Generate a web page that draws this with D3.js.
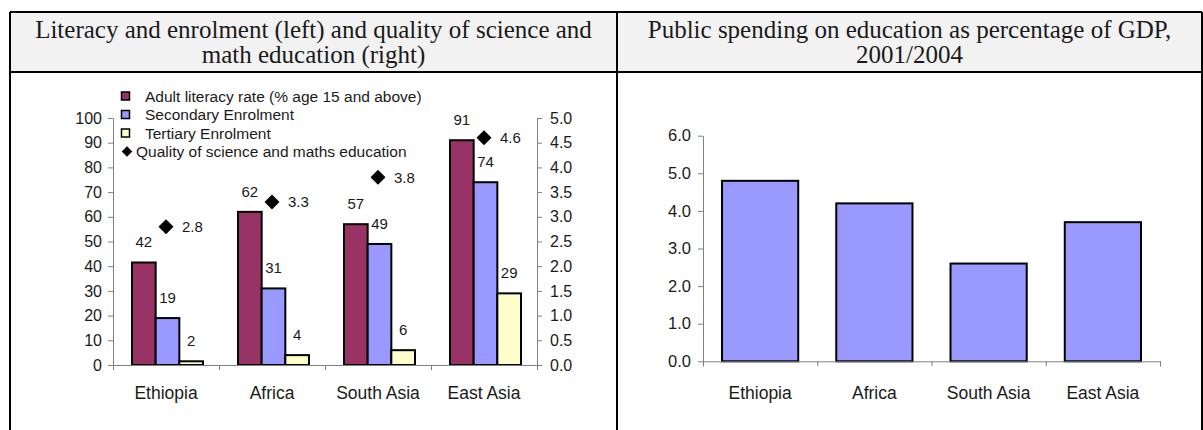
<!DOCTYPE html>
<html>
<head>
<meta charset="utf-8">
<script src="https://cdn.jsdelivr.net/npm/d3@7"></script>
<style>
  body { margin: 0; background: #fff; }
  svg { display: block; }
</style>
</head>
<body>
<svg id="chart"></svg>
<script>
// Data
const regions = ["Ethiopia", "Africa", "South Asia", "East Asia"]
const literacy = [41.5, 62, 57, 91]
const secondary = [19, 31, 49, 74]
const tertiary = [1.5, 4, 6, 29]
const quality = [2.8, 3.3, 3.8, 4.6]
const spending = [4.8, 4.2, 2.6, 3.7]
const leftTicks = [0, 10, 20, 30, 40, 50, 60, 70, 80, 90, 100]
const rightTicks = [0, 0.5, 1, 1.5, 2, 2.5, 3, 3.5, 4, 4.5, 5]
const spendTicks = [0, 1, 2, 3, 4, 5, 6]
const titles = [
  ["Literacy and enrolment (left) and quality of science and", "math education (right)"],
  ["Public spending on education as percentage of GDP,", "2001/2004"],
]
const series = [
  { name: "Adult literacy rate (% age 15 and above)", values: literacy, color: "#993366" },
  { name: "Secondary Enrolment", values: secondary, color: "#9999ff" },
  { name: "Tertiary Enrolment", values: tertiary, color: "#ffffcc" },
]
const qualityName = "Quality of science and maths education"

// Layout
const W = 1203, H = 430
const sans = "'Liberation Sans', Arial, sans-serif"
const serif = "'Liberation Serif', 'Times New Roman', serif"
const axisColor = "#808080"
const textColor = "#1a1a1a"

const svg = d3.select("#chart").attr("width", W).attr("height", H)

// Table frame
const table = { left: 10, mid: 617, right: 1202, top: 12, head: 72 }
svg.append("rect")
  .attr("x", table.left).attr("y", table.top)
  .attr("width", table.right - table.left).attr("height", table.head - table.top)
  .attr("fill", "#f2f2f2")
svg.append("g")
  .attr("stroke", "#000")
  .attr("stroke-width", 2)
  .selectAll("line")
  .data([
    [table.left, table.top, table.right, table.top],
    [table.left, table.head, table.right, table.head],
    [table.left, table.top, table.left, H + 5],
    [table.mid, table.top, table.mid, H + 5],
    [table.right, table.top, table.right, H + 5],
  ])
  .join("line")
  .attr("x1", d => d[0]).attr("y1", d => d[1])
  .attr("x2", d => d[2]).attr("y2", d => d[3])

// Titles
const cells = [[table.left, table.mid], [table.mid, table.right]]
titles.forEach((lines, i) => {
  svg.append("text")
    .attr("text-anchor", "middle")
    .attr("font-family", serif)
    .attr("font-size", 25)
    .attr("fill", textColor)
    .selectAll("tspan")
    .data(lines)
    .join("tspan")
    .attr("x", (cells[i][0] + cells[i][1]) / 2)
    .attr("y", (d, j) => 38 + j * 25)
    .text(d => d)
})

function styleAxis(size) {
  return g => {
    g.select(".domain").attr("stroke", axisColor)
    g.selectAll(".tick line").attr("stroke", axisColor)
    g.selectAll(".tick text")
      .attr("fill", textColor)
      .attr("font-family", sans)
      .attr("font-size", size)
  }
}

// Left chart
const L = { x0: 113, x1: 537, y0: 365, y1: 118 }
const x = d3.scaleBand().domain(regions).range([L.x0, L.x1])
const xInner = d3.scaleBand().domain(series.map(s => s.name))
  .range([19, x.bandwidth() - 16]).paddingInner(0)
const yLeft = d3.scaleLinear().domain([0, 100]).range([L.y0, L.y1])
const yRight = d3.scaleLinear().domain([0, 5]).range([L.y0, L.y1])

for (const s of series) {
  const g = svg.append("g")
  g.selectAll("rect")
    .data(s.values)
    .join("rect")
    .attr("x", (d, i) => x(regions[i]) + xInner(s.name))
    .attr("y", d => yLeft(d))
    .attr("width", xInner.bandwidth())
    .attr("height", d => yLeft(0) - yLeft(d))
    .attr("fill", s.color)
    .attr("stroke", "#000")
    .attr("stroke-width", 2)
  g.selectAll("text")
    .data(s.values)
    .join("text")
    .attr("x", (d, i) => x(regions[i]) + xInner(s.name) + xInner.bandwidth() / 2)
    .attr("y", d => yLeft(d) - 15)
    .attr("text-anchor", "middle")
    .attr("font-family", sans)
    .attr("font-size", 15)
    .attr("fill", textColor)
    .text(d => d3.format(".0f")(d))
}

const diamond = d3.symbol(d3.symbolSquare, 112)
svg.append("g")
  .selectAll("path")
  .data(quality)
  .join("path")
  .attr("d", diamond)
  .attr("transform", (d, i) => `translate(${x(regions[i]) + x.bandwidth() / 2},${yRight(d)}) rotate(45)`)
  .attr("fill", "#000")
svg.append("g")
  .selectAll("text")
  .data(quality)
  .join("text")
  .attr("x", (d, i) => x(regions[i]) + x.bandwidth() / 2 + 16)
  .attr("y", d => yRight(d) + 5.5)
  .attr("font-family", sans)
  .attr("font-size", 15)
  .attr("fill", textColor)
  .text(d => d3.format(".1f")(d))

svg.append("g")
  .attr("transform", `translate(${L.x0},0)`)
  .call(d3.axisLeft(yLeft).tickValues(leftTicks).tickSize(5).tickSizeOuter(0).tickPadding(6))
  .call(styleAxis(16))
svg.append("g")
  .attr("transform", `translate(${L.x1},0)`)
  .call(d3.axisRight(yRight).tickValues(rightTicks).tickSize(5).tickSizeOuter(0).tickPadding(8).tickFormat(d3.format(".1f")))
  .call(styleAxis(16))
svg.append("g")
  .attr("transform", `translate(0,${L.y0})`)
  .call(d3.axisBottom(d3.scaleLinear().domain([0, regions.length]).range([L.x0, L.x1]))
    .ticks(regions.length).tickSize(5).tickFormat(""))
  .call(styleAxis(16))
svg.append("g")
  .selectAll("text")
  .data(regions)
  .join("text")
  .attr("x", d => x(d) + x.bandwidth() / 2)
  .attr("y", 399)
  .attr("text-anchor", "middle")
  .attr("font-family", sans)
  .attr("font-size", 17.5)
  .attr("fill", textColor)
  .text(d => d)

// Legend
const legend = svg.append("g").attr("transform", "translate(121,96)")
series.forEach((s, i) => {
  legend.append("rect")
    .attr("x", 0.5).attr("y", i * 18.5 - 4)
    .attr("width", 8).attr("height", 8)
    .attr("fill", s.color)
    .attr("stroke", "#000")
    .attr("stroke-width", 1.5)
  legend.append("text")
    .attr("x", 24).attr("y", i * 18.5 + 5.5)
    .attr("font-family", sans)
    .attr("font-size", 15.5)
    .attr("fill", textColor)
    .text(s.name)
})
legend.append("path")
  .attr("d", d3.symbol(d3.symbolSquare, 55))
  .attr("transform", `translate(6,${3 * 18.5}) rotate(45)`)
  .attr("fill", "#000")
legend.append("text")
  .attr("x", 15).attr("y", 3 * 18.5 + 5.5)
  .attr("font-family", sans)
  .attr("font-size", 15.5)
  .attr("fill", textColor)
  .text(qualityName)

// Right chart
const R = { x0: 703, x1: 1160, y0: 361.3, y1: 135.7 }
const x2 = d3.scaleBand().domain(regions).range([R.x0, R.x1]).paddingInner(0.333).paddingOuter(0.1665)
const y2 = d3.scaleLinear().domain([0, 6]).range([R.y0, R.y1])
svg.append("g")
  .selectAll("rect")
  .data(spending)
  .join("rect")
  .attr("x", (d, i) => x2(regions[i]))
  .attr("y", d => y2(d))
  .attr("width", x2.bandwidth())
  .attr("height", d => y2(0) - y2(d))
  .attr("fill", "#9999ff")
  .attr("stroke", "#000")
  .attr("stroke-width", 2)
svg.append("g")
  .attr("transform", `translate(${R.x0},0)`)
  .call(d3.axisLeft(y2).tickValues(spendTicks).tickSize(5).tickSizeOuter(0).tickPadding(7).tickFormat(d3.format(".1f")))
  .call(styleAxis(16.5))
svg.append("g")
  .attr("transform", `translate(0,${R.y0})`)
  .call(d3.axisBottom(d3.scaleLinear().domain([0, regions.length]).range([R.x0, R.x1]))
    .ticks(regions.length).tickSize(5).tickFormat(""))
  .call(styleAxis(16.5))
svg.append("g")
  .selectAll("text")
  .data(regions)
  .join("text")
  .attr("x", d => x2(d) + x2.bandwidth() / 2)
  .attr("y", 399)
  .attr("text-anchor", "middle")
  .attr("font-family", sans)
  .attr("font-size", 17.5)
  .attr("fill", textColor)
  .text(d => d)
</script>
</body>
</html>
